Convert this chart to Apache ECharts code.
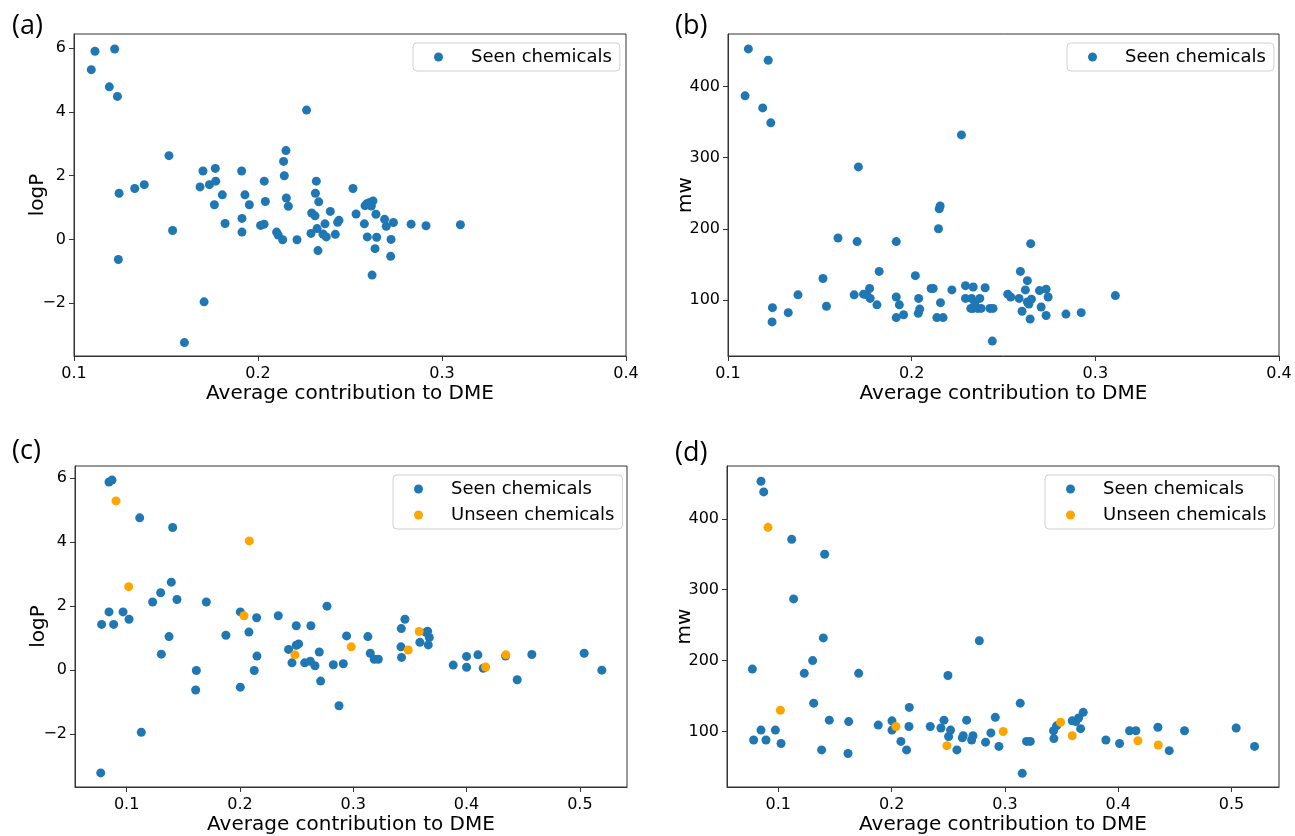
<!DOCTYPE html>
<html>
<head>
  <meta charset="utf-8">
  <title>DME contribution scatter</title>
  <script src="https://cdn.jsdelivr.net/npm/echarts@6/dist/echarts.min.js"></script>
</head>
<body style="margin:0">
  <div id="main" style="width:1295px;height:836px;"></div>
  <script type="text/javascript">
    // (a) logP vs contribution, all seen
    var aSeen = [[0.1094,5.33],[0.1114,5.91],[0.1221,5.98],[0.1192,4.79],[0.1236,4.49],[0.1245,1.45],[0.1241,-0.63],[0.133,1.60],[0.1382,1.72],[0.1516,2.63],[0.1536,0.28],[0.160,-3.24],[0.1685,1.65],[0.1701,2.15],[0.1707,-1.96],[0.1736,1.72],[0.1763,1.09],[0.1768,2.23],[0.177,1.83],[0.1806,1.40],[0.1821,0.50],[0.1911,2.15],[0.1913,0.66],[0.1913,0.23],[0.1929,1.40],[0.1953,1.09],[0.2014,0.44],[0.2033,0.48],[0.2034,1.83],[0.204,1.19],[0.2101,0.23],[0.211,0.14],[0.2134,-0.01],[0.2139,2.45],[0.2143,2.00],[0.2152,2.79],[0.2154,1.30],[0.2165,1.04],[0.2212,-0.01],[0.2264,4.06],[0.2288,0.19],[0.2292,0.83],[0.231,0.74],[0.2317,1.83],[0.2312,1.45],[0.2321,0.34],[0.2326,-0.35],[0.233,1.18],[0.2353,0.17],[0.2364,0.49],[0.2371,0.08],[0.2393,0.88],[0.242,0.16],[0.2433,0.54],[0.244,0.60],[0.2516,1.60],[0.2533,0.80],[0.2578,0.49],[0.2582,1.06],[0.2594,0.08],[0.2592,1.12],[0.2607,1.16],[0.2616,1.05],[0.2625,1.21],[0.262,-1.12],[0.2636,-0.29],[0.2641,0.79],[0.2645,0.07],[0.2688,0.63],[0.2697,0.41],[0.2723,0.00],[0.2721,-0.53],[0.2736,0.53],[0.2832,0.48],[0.2913,0.43],[0.31,0.46]];

    // (b) mw vs contribution, all seen
    var bSeen = [[0.1111,453],[0.1093,387],[0.1219,437],[0.1189,370],[0.1233,349],[0.1242,89],[0.124,69],[0.1328,82],[0.1381,107],[0.1517,130],[0.1536,91],[0.1599,187],[0.1687,107],[0.1703,182],[0.171,287],[0.1738,108],[0.1756,107],[0.1771,116],[0.1774,102],[0.1811,93],[0.1823,140],[0.1916,182],[0.1916,104],[0.1916,75],[0.1933,93],[0.1956,79],[0.202,134],[0.2036,81],[0.2038,102],[0.2044,87],[0.2106,116],[0.2117,116],[0.2137,75],[0.2146,200],[0.215,228],[0.2155,232],[0.2157,96],[0.2171,75],[0.2219,114],[0.2271,332],[0.2293,120],[0.2293,102],[0.2326,102],[0.2322,88],[0.2335,118],[0.2335,88],[0.2344,96],[0.2359,88],[0.2371,102],[0.2378,88],[0.24,117],[0.2426,88],[0.2443,88],[0.2439,42],[0.2523,108],[0.2539,104],[0.2585,102],[0.2592,140],[0.2601,84],[0.2619,114],[0.263,127],[0.263,97],[0.2638,94],[0.2652,101],[0.2645,73],[0.2648,179],[0.2696,113],[0.2732,115],[0.2705,90],[0.2732,78],[0.2743,104],[0.284,80],[0.2923,82],[0.3109,106]];

    // (c) logP, seen / unseen
    var cSeen = [[0.0779,1.43],[0.0771,-3.21],[0.0844,5.88],[0.0871,5.94],[0.0844,1.82],[0.0885,1.43],[0.0968,1.82],[0.1021,1.59],[0.1115,4.76],[0.1129,-1.94],[0.1229,2.13],[0.13,2.42],[0.1306,0.50],[0.1374,1.05],[0.1394,2.75],[0.1406,4.46],[0.1444,2.21],[0.1615,-0.01],[0.1609,-0.62],[0.1703,2.13],[0.1876,1.09],[0.2003,1.82],[0.2003,-0.53],[0.2079,1.19],[0.2126,-0.01],[0.2147,1.64],[0.215,0.44],[0.2338,1.70],[0.2429,0.65],[0.2459,0.23],[0.2497,1.39],[0.2497,0.78],[0.2518,0.82],[0.2571,0.23],[0.2621,0.28],[0.2662,0.14],[0.2626,1.39],[0.27,0.57],[0.2712,-0.34],[0.2768,2.00],[0.2824,0.17],[0.2874,-1.11],[0.2912,0.20],[0.2941,1.07],[0.3129,1.05],[0.315,0.53],[0.3185,0.34],[0.3221,0.34],[0.3424,1.30],[0.3456,1.59],[0.3421,0.73],[0.3426,0.40],[0.3588,0.87],[0.3641,1.18],[0.3656,1.22],[0.3671,1.02],[0.3662,0.79],[0.3882,0.16],[0.40,0.43],[0.40,0.09],[0.41,0.48],[0.4147,0.06],[0.4344,0.44],[0.4447,-0.30],[0.4576,0.49],[0.5038,0.53],[0.5194,0.00]];
    var cUnseen = [[0.0906,5.29],[0.1018,2.61],[0.2035,1.70],[0.2082,4.04],[0.2485,0.48],[0.2982,0.73],[0.3485,0.63],[0.3582,1.21],[0.4168,0.10],[0.4347,0.48]];

    // (d) mw, seen / unseen
    var dSeen = [[0.0847,453],[0.0871,438],[0.1118,371],[0.1409,350],[0.1135,287],[0.1397,232],[0.0771,188],[0.1303,200],[0.1229,182],[0.1709,182],[0.1312,140],[0.145,116],[0.1621,114],[0.0847,102],[0.0974,102],[0.0782,88],[0.0891,88],[0.1024,83],[0.1382,74],[0.1615,69],[0.1882,109],[0.2003,115],[0.2003,102],[0.2082,86],[0.2132,74],[0.2153,107],[0.2156,134],[0.2341,107],[0.2435,105],[0.2462,116],[0.2497,179],[0.2503,93],[0.252,102],[0.2576,74],[0.2624,91],[0.2632,94],[0.2662,116],[0.2706,88],[0.2718,94],[0.2774,228],[0.2829,85],[0.2876,98],[0.2915,120],[0.2947,79],[0.3135,140],[0.3153,41],[0.3191,86],[0.3224,86],[0.3429,101],[0.3432,90],[0.3456,108],[0.3594,115],[0.3626,114],[0.365,119],[0.3691,127],[0.3668,104],[0.3891,88],[0.4012,83],[0.41,101],[0.4156,101],[0.435,106],[0.445,73],[0.4585,101],[0.5041,105],[0.5203,79]];
    var dUnseen = [[0.0909,388],[0.1018,130],[0.2038,107],[0.2488,80],[0.2985,100],[0.3491,113],[0.3594,94],[0.4174,87],[0.4353,81]];

    // tick labels
    var xTicksTop = [0.1, 0.2, 0.3, 0.4];
    var xTicksBottom = [0.1, 0.2, 0.3, 0.4, 0.5];
    var logpTicks = [-2, 0, 2, 4, 6];
    var mwTicks = [100, 200, 300, 400];

    var BLUE = '#1f77b4', ORANGE = '#ffa500';
    var FONT = 'DejaVu Sans';
    var myChart = echarts.init(document.getElementById('main'));

    function minus(v) { return v < 0 ? '\u2212' + (-v) : String(v); }

    function xAxis(idx, min, max, ticks) {
      return {
        type: 'value', gridIndex: idx, min: min, max: max,
        name: 'Average contribution to DME', nameLocation: 'middle', nameGap: 28,
        nameMoveOverlap: false,
        nameTextStyle: { fontSize: 20, color: '#000', fontFamily: FONT },
        axisLine: { show: true, onZero: false, lineStyle: { color: '#333' } },
        axisTick: { show: true, length: 5, customValues: ticks, lineStyle: { color: '#333' } },
        axisLabel: { customValues: ticks, fontSize: 16, color: '#000', fontFamily: FONT, margin: 10,
          formatter: function (v) { return v.toFixed(1); } },
        splitLine: { show: false }
      };
    }
    function yAxis(idx, min, max, ticks, name, gap) {
      return {
        type: 'value', gridIndex: idx, min: min, max: max,
        name: name, nameLocation: 'middle', nameGap: gap,
        nameMoveOverlap: false,
        nameTextStyle: { fontSize: 20, color: '#000', fontFamily: FONT },
        axisLine: { show: true, onZero: false, lineStyle: { color: '#333' } },
        axisTick: { show: true, length: 5, customValues: ticks, lineStyle: { color: '#333' } },
        axisLabel: { customValues: ticks, fontSize: 16, color: '#000', fontFamily: FONT, margin: 8,
          formatter: minus },
        splitLine: { show: false }
      };
    }
    function scatter(name, idx, data, color) {
      return { name: name, type: 'scatter', xAxisIndex: idx, yAxisIndex: idx, data: data,
        symbolSize: 9, itemStyle: { color: color, opacity: 1 }, emphasis: { disabled: true } };
    }
    function legend(left, top, names) {
      return {
        left: left, top: top, orient: 'vertical', data: names,
        icon: 'circle', itemWidth: 9, itemHeight: 9, itemGap: 8,
        padding: [5, 8, 5, 21],
        borderColor: '#d0d0d0', borderWidth: 1, borderRadius: 4, backgroundColor: '#fff',
        textStyle: { fontSize: 18, color: '#000', fontFamily: FONT, padding: [0, 0, 0, 23] }
      };
    }
    function label(text, left, top) {
      return { text: text, left: left, top: top, padding: 0,
        textStyle: { fontSize: 27, fontWeight: 'normal', color: '#000', fontFamily: 'Open Sans' } };
    }

    myChart.setOption({
      backgroundColor: '#fff',
      animation: false,
      title: [label('(a)', 12, 13), label('(b)', 675, 13), label('(c)', 12, 438), label('(d)', 675, 440)],
      legend: [
        legend(413, 43, ['Seen chemicals']),
        legend(1067, 43, ['Seen chemicals']),
        legend(393, 475, ['Seen chemicals', 'Unseen chemicals']),
        legend(1045, 475, ['Seen chemicals', 'Unseen chemicals'])
      ],
      grid: [
        { left: 74, top: 34, width: 552, height: 322, show: true, borderColor: '#333', borderWidth: 1 },
        { left: 728, top: 34, width: 551, height: 322, show: true, borderColor: '#333', borderWidth: 1 },
        { left: 75, top: 466, width: 552, height: 322, show: true, borderColor: '#333', borderWidth: 1 },
        { left: 727, top: 466, width: 552, height: 322, show: true, borderColor: '#333', borderWidth: 1 }
      ],
      xAxis: [
        xAxis(0, 0.1, 0.4, xTicksTop),
        xAxis(1, 0.1, 0.4, xTicksTop),
        xAxis(2, 0.0544, 0.5416, xTicksBottom),
        xAxis(3, 0.0547, 0.5419, xTicksBottom)
      ],
      yAxis: [
        yAxis(0, -3.66, 6.45, logpTicks, 'logP', 26),
        yAxis(1, 21, 474, mwTicks, 'mw', 32),
        yAxis(2, -3.65, 6.38, logpTicks, 'logP', 26),
        yAxis(3, 21.7, 474.5, mwTicks, 'mw', 32)
      ],
      series: [
        scatter('Seen chemicals', 0, aSeen, BLUE),
        scatter('Seen chemicals', 1, bSeen, BLUE),
        scatter('Seen chemicals', 2, cSeen, BLUE),
        scatter('Unseen chemicals', 2, cUnseen, ORANGE),
        scatter('Seen chemicals', 3, dSeen, BLUE),
        scatter('Unseen chemicals', 3, dUnseen, ORANGE)
      ]
    });
  </script>
</body>
</html>
